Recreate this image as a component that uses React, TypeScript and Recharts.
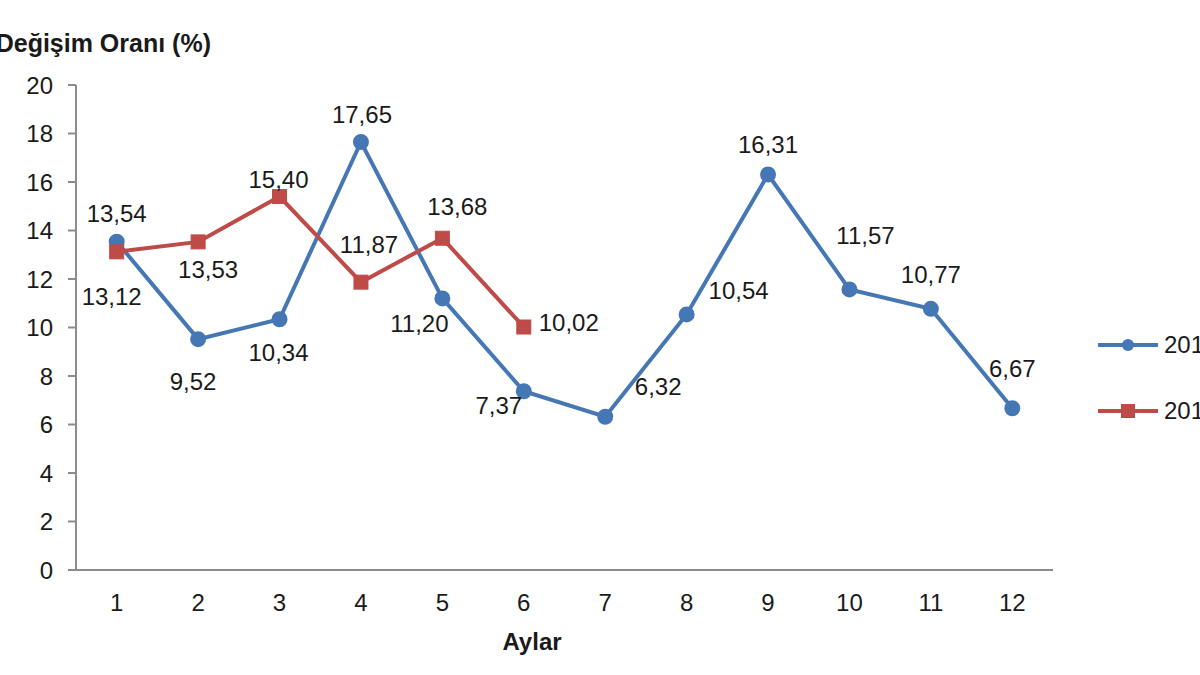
import { LabelList, Line, LineChart, XAxis, YAxis } from "recharts";

const months = ["1", "2", "3", "4", "5", "6", "7", "8", "9", "10", "11", "12"];
const series2014 = [13.54, 9.52, 10.34, 17.65, 11.2, 7.37, 6.32, 10.54, 16.31, 11.57, 10.77, 6.67];
const series2015 = [13.12, 13.53, 15.4, 11.87, 13.68, 10.02];
const yTicks = [0, 2, 4, 6, 8, 10, 12, 14, 16, 18, 20];
const seriesNames = ["2014", "2015"];

const BLUE = "#4677B5";
const RED = "#BE4B48";
const FONT = "'Liberation Sans', Arial, sans-serif";

// label nudges, picked by eye so labels sit where Excel put them
const blueNudge = [
  [0, -28], [-5, 42], [-1, 33], [1, -27], [-23, 25], [-25, 14],
  [53, -30], [52, -24], [0, -30], [16, -54], [0, -34], [0, -40],
];
const redNudge = [[-5, 45], [10, 28], [-1, -17], [8, -38], [15, -32], [45, -5]];

const data = months.map((m, i) => ({
  month: m,
  a: series2014[i],
  b: i < series2015.length ? series2015[i] : null,
}));

const fmt = (v: number) => v.toFixed(2).replace(".", ",");

function makeLabel(nudge: number[][]) {
  return (props: any) => {
    const { x, y, value, index } = props;
    if (value == null) return null;
    const [dx, dy] = nudge[index] || [0, -20];
    return (
      <text
        x={x + dx}
        y={y + dy}
        textAnchor="middle"
        dominantBaseline="central"
        fontSize={24}
        fontFamily={FONT}
        fill="#1a1a1a"
      >
        {fmt(value)}
      </text>
    );
  };
}

function SquareDot(props: any) {
  const { cx, cy, value } = props;
  if (value == null) return null;
  return <rect x={cx - 7} y={cy - 7} width={14} height={14} fill={RED} stroke={RED} />;
}

function LegendBox() {
  const colors = [BLUE, RED];
  return (
    <div style={{ position: "absolute", left: 1098, top: 330, fontFamily: FONT, fontSize: 24, color: "#1a1a1a" }}>
      {seriesNames.map((name, i) => (
        <div key={name} style={{ display: "flex", alignItems: "center", height: 30, marginBottom: i === 0 ? 36 : 0 }}>
          <svg width={62} height={20}>
            <line x1={0} y1={10} x2={60} y2={10} stroke={colors[i]} strokeWidth={4} />
            {i === 0 ? (
              <circle cx={30} cy={10} r={6} fill={BLUE} />
            ) : (
              <rect x={23} y={3} width={14} height={14} fill={RED} />
            )}
          </svg>
          <span style={{ marginLeft: 4, whiteSpace: "nowrap" }}>{name}</span>
        </div>
      ))}
    </div>
  );
}

export default function App() {
  return (
    <div style={{ position: "relative", width: 1200, height: 675, overflow: "hidden", background: "#fff" }}>
      <style>{`body{margin:0}`}</style>
      <div
        style={{
          position: "absolute",
          right: 1200 - 211,
          top: 29,
          fontFamily: FONT,
          fontWeight: "bold",
          fontSize: 25,
          whiteSpace: "nowrap",
          color: "#1a1a1a",
        }}
      >
        Değişim Oranı (%)
      </div>
      <div
        style={{
          position: "absolute",
          left: 432,
          width: 200,
          textAlign: "center",
          top: 628,
          fontFamily: FONT,
          fontWeight: "bold",
          fontSize: 24,
          color: "#1a1a1a",
        }}
      >
        Aylar
      </div>
      <LegendBox />
      <LineChart width={1200} height={675} data={data} margin={{ top: 85, right: 147, bottom: 0, left: 0 }}>
        <XAxis
          dataKey="month"
          height={105}
          padding={{ left: 40.7, right: 40.7 }}
          tickLine={false}
          tickSize={6}
          tickMargin={18}
          axisLine={{ stroke: "#8c8c8c", strokeWidth: 2 }}
          tick={{ fontSize: 24, fontFamily: FONT, fill: "#1a1a1a" }}
        />
        <YAxis
          width={76}
          domain={[0, 20]}
          ticks={yTicks}
          interval={0}
          tickSize={8}
          tickMargin={15}
          axisLine={{ stroke: "#8c8c8c", strokeWidth: 2 }}
          tickLine={{ stroke: "#8c8c8c", strokeWidth: 2 }}
          tick={{ fontSize: 24, fontFamily: FONT, fill: "#1a1a1a" }}
        />
        <Line
          dataKey="a"
          name={seriesNames[0]}
          stroke={BLUE}
          strokeWidth={4}
          dot={{ r: 6, fill: BLUE, stroke: BLUE }}
          activeDot={false}
          isAnimationActive={false}
        >
          <LabelList dataKey="a" content={makeLabel(blueNudge)} />
        </Line>
        <Line
          dataKey="b"
          name={seriesNames[1]}
          stroke={RED}
          strokeWidth={4}
          dot={<SquareDot />}
          activeDot={false}
          connectNulls={false}
          isAnimationActive={false}
        >
          <LabelList dataKey="b" content={makeLabel(redNudge)} />
        </Line>
      </LineChart>
    </div>
  );
}
